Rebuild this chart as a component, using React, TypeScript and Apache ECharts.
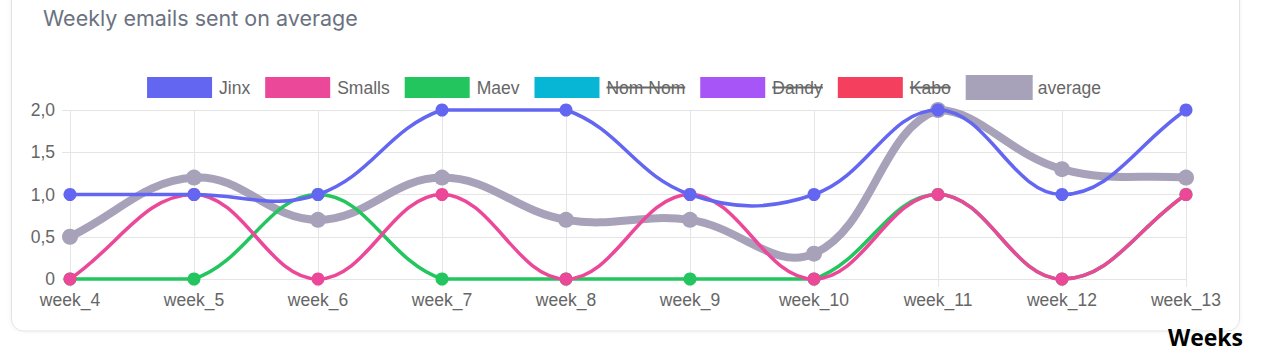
import React, { useEffect, useRef } from "react";
import * as echarts from "echarts";

const weeks = ["week_4", "week_5", "week_6", "week_7", "week_8", "week_9", "week_10", "week_11", "week_12", "week_13"];
const jinx = [1, 1, 1, 2, 2, 1, 1, 2, 1, 2];
const smalls = [0, 1, 0, 1, 0, 1, 0, 1, 0, 1];
const maev = [0, 0, 1, 0, 0, 0, 0, 1, 0, 1];
const average = [0.5, 1.2, 0.7, 1.2, 0.7, 0.7, 0.3, 2.0, 1.3, 1.2];

const seriesNames = ["Jinx", "Smalls", "Maev", "Nom Nom", "Dandy", "Kabo", "average"];
const seriesColors = ["#6366f1", "#ec4899", "#22c55e", "#06b6d4", "#a855f7", "#f43f5e", "#a7a2b9"];
const hiddenSeries = ["Nom Nom", "Dandy", "Kabo"];
const seriesData: Record<string, number[]> = { Jinx: jinx, Smalls: smalls, Maev: maev, average: average };

const titleText = "Weekly emails sent on average";
const axisTitle = "Weeks";

const FONT = "'Liberation Sans', Arial, sans-serif";
const AXIS_SIZE = 17.5;
const LEGEND_SIZE = 17.5;
const TENSION = 0.4;

function measure(text: string, font: string): number {
  const c = document.createElement("canvas");
  const ctx = c.getContext("2d");
  if (!ctx) return text.length * 8;
  ctx.font = font;
  return ctx.measureText(text).width;
}

// Chart.js style spline control points
function spline(prev: number[], cur: number[], next: number[], t: number) {
  const d01 = Math.hypot(cur[0] - prev[0], cur[1] - prev[1]);
  const d12 = Math.hypot(next[0] - cur[0], next[1] - cur[1]);
  let s01 = d01 / (d01 + d12);
  let s12 = d12 / (d01 + d12);
  if (isNaN(s01)) s01 = 0;
  if (isNaN(s12)) s12 = 0;
  const fa = t * s01;
  const fb = t * s12;
  return {
    previous: [cur[0] - fa * (next[0] - prev[0]), cur[1] - fa * (next[1] - prev[1])],
    next: [cur[0] + fb * (next[0] - prev[0]), cur[1] + fb * (next[1] - prev[1])],
  };
}

export default function App() {
  const ref = useRef<HTMLDivElement>(null);
  useEffect(() => {
    if (!ref.current) return;
    const chart = echarts.init(ref.current, undefined, { renderer: "svg" });

    // custom legend (Chart.js style, hidden datasets struck through)
    const legendFont = `${LEGEND_SIZE}px ${FONT}`;
    const boxW = 65;
    const textGap = 7;
    const itemGap = 15;
    const widths = seriesNames.map((n) => measure(n, legendFont));
    const total = widths.reduce((a, w) => a + boxW + textGap + w, 0) + itemGap * (seriesNames.length - 1);
    let x = 624 - total / 2;
    const legendY = 87.5;
    const legendEls: any[] = [];
    seriesNames.forEach((n, i) => {
      const isAvg = n === "average";
      const bw = isAvg ? 67 : boxW;
      const bh = isAvg ? 25 : 21;
      legendEls.push({
        type: "rect",
        shape: { x: x, y: legendY - bh / 2, width: bw, height: bh },
        style: { fill: seriesColors[i] },
      });
      const tx = x + boxW + textGap;
      legendEls.push({
        type: "text",
        x: tx,
        y: legendY,
        style: { text: n, font: legendFont, fill: "#666666", textVerticalAlign: "middle", textAlign: "left" },
      });
      if (hiddenSeries.includes(n)) {
        legendEls.push({
          type: "line",
          shape: { x1: tx, y1: legendY, x2: tx + widths[i], y2: legendY },
          style: { stroke: "#666666", lineWidth: 2 },
        });
      }
      x = tx + widths[i] + itemGap;
    });

    const visible = seriesNames.filter((n) => !hiddenSeries.includes(n));
    const series: any[] = [];
    visible.forEach((n) => {
      const i = seriesNames.indexOf(n);
      const isAvg = n === "average";
      const color = seriesColors[i];
      const lw = isAvg ? 8 : 3.5;
      const baseZ = isAvg ? 1 : 2 * (seriesNames.length - i);
      const data = seriesData[n].map((v, k) => [k, v]);
      series.push({
        name: n,
        type: "custom",
        z: baseZ,
        clip: false,
        silent: true,
        encode: { x: 0, y: 1 },
        data: data,
        renderItem: (params: any, api: any) => {
          const k = params.dataIndexInside;
          const cnt = params.dataInsideLength;
          if (k >= cnt - 1) return null;
          const cs = params.coordSys;
          const cap = (p: number[]) => [
            Math.min(Math.max(p[0], cs.x), cs.x + cs.width),
            Math.min(Math.max(p[1], cs.y), cs.y + cs.height),
          ];
          const pt = (j: number) => api.coord([api.value(0, j), api.value(1, j)]);
          const p0 = pt(Math.max(k - 1, 0));
          const p1 = pt(k);
          const p2 = pt(k + 1);
          const p3 = pt(Math.min(k + 2, cnt - 1));
          const a = cap(spline(p0, p1, p2, TENSION).next);
          const b = cap(spline(p1, p2, p3, TENSION).previous);
          return {
            type: "bezierCurve",
            shape: { x1: p1[0], y1: p1[1], x2: p2[0], y2: p2[1], cpx1: a[0], cpy1: a[1], cpx2: b[0], cpy2: b[1] },
            style: { stroke: color, lineWidth: lw, fill: "none" },
          };
        },
      });
      series.push({
        name: n,
        type: "scatter",
        z: baseZ + 1,
        data: data,
        symbol: "circle",
        symbolSize: isAvg ? 16 : 13,
        itemStyle: { color: color, opacity: 1 },
      });
    });

    chart.setOption({
      animation: false,
      backgroundColor: "#ffffff",
      grid: { left: 70, right: 94, top: 110, bottom: 81, containLabel: false },
      xAxis: {
        type: "category",
        data: weeks,
        boundaryGap: false,
        axisLine: { show: true, lineStyle: { color: "#e5e5e5", width: 1 } },
        axisTick: { show: true, alignWithLabel: true, length: 8, lineStyle: { color: "#e5e5e5" } },
        splitLine: { show: true, lineStyle: { color: "#e5e5e5", width: 1 } },
        axisLabel: { color: "#666666", fontSize: AXIS_SIZE, fontFamily: FONT, margin: 12 },
      },
      yAxis: {
        type: "value",
        min: 0,
        max: 2,
        interval: 0.5,
        axisLine: { show: false },
        axisTick: { show: true, length: 8, lineStyle: { color: "#e5e5e5" } },
        splitLine: { show: true, lineStyle: { color: "#e5e5e5", width: 1 } },
        axisLabel: {
          color: "#666666",
          fontSize: AXIS_SIZE,
          fontFamily: FONT,
          margin: 15,
          formatter: (v: number) => (v === 0 ? "0" : v.toFixed(1).replace(".", ",")),
        },
      },
      graphic: [
        {
          type: "rect",
          z: -10,
          shape: { x: 11.5, y: -30, width: 1228, height: 361, r: 12 },
          style: { fill: "#ffffff", stroke: "#e3e3e3", lineWidth: 1, shadowBlur: 4, shadowColor: "rgba(0,0,0,0.06)" },
        },
        {
          type: "text",
          x: 43,
          y: 18,
          style: { text: titleText, font: `21.5px Inter, 'Noto Sans', sans-serif`, fill: "#6b7280", textVerticalAlign: "middle" },
        },
        {
          type: "text",
          x: 1243,
          y: 337,
          style: { text: axisTitle, font: `bold 23px 'Open Sans', 'Noto Sans', sans-serif`, fill: "#000000", textAlign: "right", textVerticalAlign: "middle" },
        },
        ...legendEls,
      ],
      series,
    });
    return () => chart.dispose();
  }, []);
  return <div ref={ref} style={{ position: "absolute", left: 0, top: 0, width: 1280, height: 360 }} />;
}
